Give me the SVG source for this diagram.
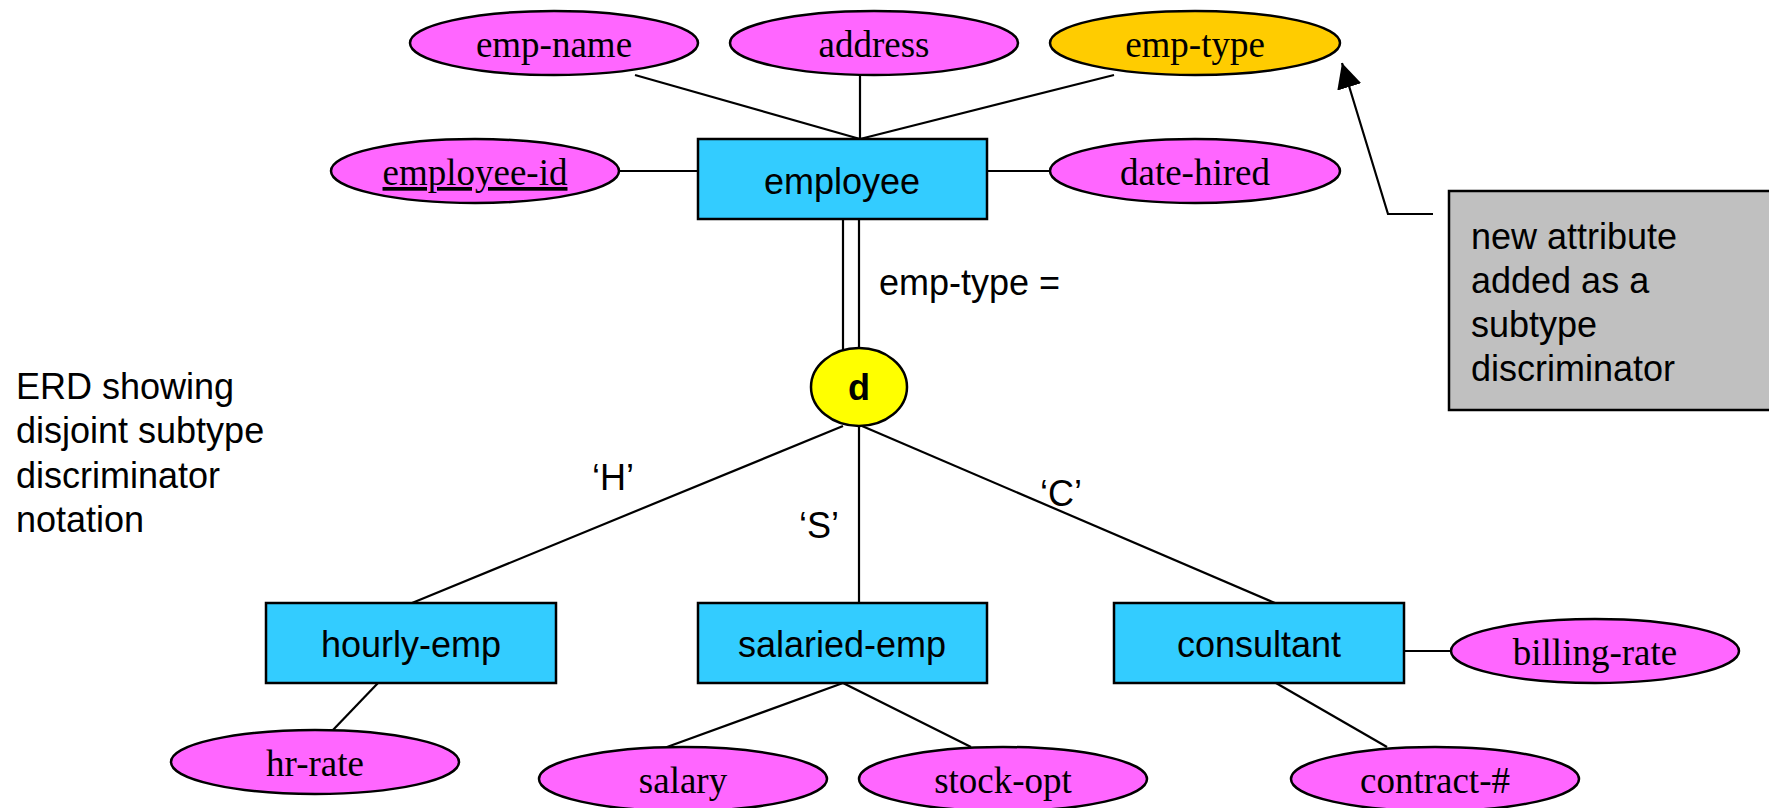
<svg xmlns="http://www.w3.org/2000/svg" width="1769" height="808" viewBox="0 0 1769 808">
<style>
.attr{fill:#FF66FF;stroke:#000;stroke-width:2.5}
.disc{fill:#FFCC00;stroke:#000;stroke-width:2.5}
.ent{fill:#33CCFF;stroke:#000;stroke-width:2.5}
.serif{font-family:"Liberation Serif","Times New Roman",serif;font-size:37px;text-anchor:middle;fill:#000}
.sans{font-family:"Liberation Sans",Arial,sans-serif;font-size:36px;fill:#000}
.mid{text-anchor:middle}
.ln{stroke:#000;stroke-width:2.2;fill:none}
</style>
<defs>
<marker id="arr" viewBox="0 0 10 10" refX="10" refY="5" markerWidth="25" markerHeight="25" markerUnits="userSpaceOnUse" orient="auto">
<path d="M0,0 L10,5 L0,10 z" fill="#000"/>
</marker>
</defs>
<rect width="1769" height="808" fill="#fff"/>
<g id="connectors">
<line class="ln" x1="635" y1="75" x2="860" y2="139"/>
<line class="ln" x1="860" y1="75" x2="860" y2="139"/>
<line class="ln" x1="1114" y1="75" x2="860" y2="139"/>
<line class="ln" x1="619" y1="171" x2="698" y2="171"/>
<line class="ln" x1="987" y1="171" x2="1050" y2="171"/>
<line class="ln" x1="843" y1="219" x2="843" y2="350"/>
<line class="ln" x1="859" y1="219" x2="859" y2="348"/>
<line class="ln" x1="843" y1="426" x2="412" y2="603"/>
<line class="ln" x1="859" y1="426" x2="859" y2="603"/>
<line class="ln" x1="862" y1="426" x2="1275" y2="603"/>
<line class="ln" x1="378" y1="683" x2="332" y2="731"/>
<line class="ln" x1="843" y1="683" x2="667" y2="747"/>
<line class="ln" x1="843" y1="683" x2="971" y2="747"/>
<line class="ln" x1="1276" y1="683" x2="1387" y2="747"/>
<line class="ln" x1="1404" y1="651" x2="1451" y2="651"/>
<path class="ln" d="M1433,214 L1388,214 L1342,63" marker-end="url(#arr)"/>
</g>
<g id="emp-name"><ellipse class="attr" cx="554" cy="43" rx="144" ry="32"/><text class="serif" x="554" y="57">emp-name</text></g>
<g id="address"><ellipse class="attr" cx="874" cy="43" rx="144" ry="32"/><text class="serif" x="874" y="57">address</text></g>
<g id="emp-type"><ellipse class="disc" cx="1195" cy="43" rx="145" ry="32"/><text class="serif" x="1195" y="57">emp-type</text></g>
<g id="employee-id"><ellipse class="attr" cx="475" cy="171" rx="144" ry="32"/><text class="serif" x="475" y="185" text-decoration="underline">employee-id</text></g>
<g id="date-hired"><ellipse class="attr" cx="1195" cy="171" rx="145" ry="32"/><text class="serif" x="1195" y="185">date-hired</text></g>
<g id="employee"><rect class="ent" x="698" y="139" width="289" height="80"/><text class="sans mid" x="842" y="194">employee</text></g>
<g id="emp-type-label"><text class="sans" x="879" y="295">emp-type =</text></g>
<g id="d"><ellipse cx="859" cy="387" rx="48" ry="39" fill="#FFFF00" stroke="#000" stroke-width="2.5"/><text class="sans mid" x="859" y="400" font-weight="bold" font-size="35">d</text></g>
<g id="label-H"><text class="sans" x="592" y="490">‘H’</text></g>
<g id="label-S"><text class="sans" x="799" y="538">‘S’</text></g>
<g id="label-C"><text class="sans" x="1040" y="506">‘C’</text></g>
<g id="hourly-emp"><rect class="ent" x="266" y="603" width="290" height="80"/><text class="sans mid" x="411" y="657">hourly-emp</text></g>
<g id="salaried-emp"><rect class="ent" x="698" y="603" width="289" height="80"/><text class="sans mid" x="842" y="657">salaried-emp</text></g>
<g id="consultant"><rect class="ent" x="1114" y="603" width="290" height="80"/><text class="sans mid" x="1259" y="657">consultant</text></g>
<g id="billing-rate"><ellipse class="attr" cx="1595" cy="651" rx="144" ry="32"/><text class="serif" x="1595" y="665">billing-rate</text></g>
<g id="hr-rate"><ellipse class="attr" cx="315" cy="762" rx="144" ry="32"/><text class="serif" x="315" y="776">hr-rate</text></g>
<g id="salary"><ellipse class="attr" cx="683" cy="779" rx="144" ry="32"/><text class="serif" x="683" y="793">salary</text></g>
<g id="stock-opt"><ellipse class="attr" cx="1003" cy="779" rx="144" ry="32"/><text class="serif" x="1003" y="793">stock-opt</text></g>
<g id="contract"><ellipse class="attr" cx="1435" cy="779" rx="144" ry="32"/><text class="serif" x="1435" y="793">contract-#</text></g>
<g id="note"><rect x="1449" y="191" width="340" height="219" fill="#C0C0C0" stroke="#000" stroke-width="2.5"/>
<text class="sans" x="1471" y="249">new attribute</text>
<text class="sans" x="1471" y="293">added as a</text>
<text class="sans" x="1471" y="337">subtype</text>
<text class="sans" x="1471" y="381">discriminator</text></g>
<g id="caption">
<text class="sans" x="16" y="399">ERD showing</text>
<text class="sans" x="16" y="443">disjoint subtype</text>
<text class="sans" x="16" y="488">discriminator</text>
<text class="sans" x="16" y="532">notation</text></g>
</svg>
